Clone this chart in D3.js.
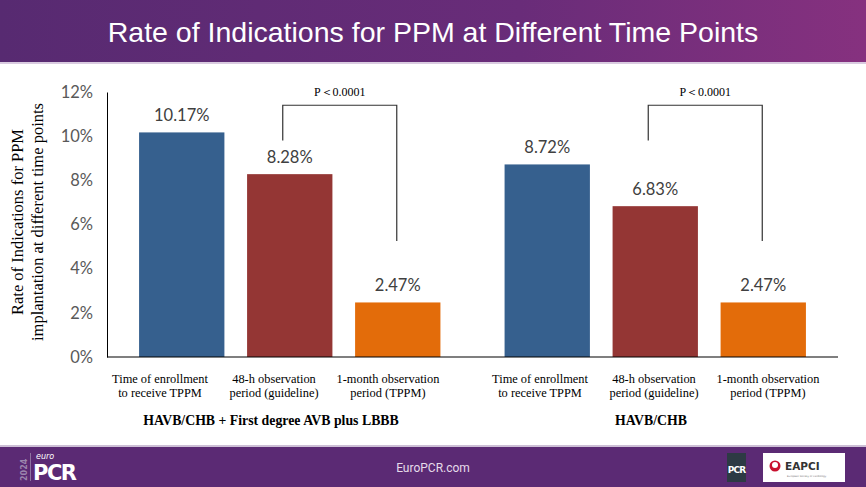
<!DOCTYPE html>
<html><head><meta charset="utf-8">
<script src="https://cdn.jsdelivr.net/npm/d3@7/dist/d3.min.js"></script>
<style>body{margin:0;background:#fff}svg{display:block}</style>
</head><body>
<svg id="c" width="866" height="487"></svg>
<script>
const title = "Rate of Indications for PPM at Different Time Points";
const groups = ["HAVB/CHB + First degree AVB plus LBBB", "HAVB/CHB"];
const categories = ["Time of enrollment|to receive TPPM", "48-h observation|period (guideline)", "1-month observation|period (TPPM)"];
const seriesValues = [[10.17, 8.28, 2.47], [8.72, 6.83, 2.47]];
const barColors = ["#36608e", "#943634", "#e36c0a"];
const yTicks = [0, 2, 4, 6, 8, 10, 12];
const yTitle = ["Rate of Indications for PPM", "implantation at different time points"];
const pLabel = "P\uFF1C0.0001";
const bracketValues = [11.4, 9.8, 5.25]; // top, left leg end, right leg end

const svg = d3.select("#c");
const defs = svg.append("defs");
const g = defs.append("linearGradient").attr("id","hdr").attr("x1","0").attr("x2","1");
g.append("stop").attr("offset","0").attr("stop-color","#572a71");
g.append("stop").attr("offset","0.6").attr("stop-color","#692c79");
g.append("stop").attr("offset","1").attr("stop-color","#86317f");

// header
svg.append("rect").attr("x",0).attr("y",0).attr("width",866).attr("height",62).attr("fill","url(#hdr)");
svg.append("rect").attr("x",0).attr("y",62).attr("width",866).attr("height",2).attr("fill","#d9cbe0");
svg.append("text").attr("x",433).attr("y",42).attr("text-anchor","middle")
  .attr("font-family","Liberation Sans, Arial, sans-serif").attr("font-size",28.5).attr("fill","#fff").text(title);

// footer
svg.append("rect").attr("x",0).attr("y",445).attr("width",866).attr("height",2).attr("fill","#cdbfd6");
svg.append("rect").attr("x",0).attr("y",447).attr("width",866).attr("height",40).attr("fill","#5b2a74");
svg.append("text").attr("x",433).attr("y",472).attr("text-anchor","middle")
  .attr("font-family","Roboto, sans-serif").attr("font-size",12).attr("fill","#e6dcea").text("EuroPCR.com");
// euroPCR logo
svg.append("text").attr("transform","translate(27,481) rotate(-90)").attr("font-family","DejaVu Sans, sans-serif")
  .attr("font-weight","bold").attr("font-size",8).attr("fill","#9b86ad").text("2024");
svg.append("rect").attr("x",30).attr("y",453).attr("width",0.8).attr("height",28).attr("fill","#9b86ad");
svg.append("text").attr("x",36).attr("y",459).attr("font-family","DejaVu Sans, sans-serif").attr("font-style","italic")
  .attr("font-size",8).attr("fill","#fff").text("euro");
svg.append("text").attr("x",33).attr("y",480).attr("font-family","DejaVu Sans, sans-serif").attr("font-weight","bold")
  .attr("font-size",21).attr("letter-spacing",-1.5).attr("fill","#fff").text("PCR");
// PCR square
svg.append("rect").attr("x",727).attr("y",453).attr("width",19).attr("height",29).attr("fill","#2d3a44");
svg.append("text").attr("x",736.5).attr("y",473).attr("text-anchor","middle").attr("font-family","DejaVu Sans, sans-serif")
  .attr("font-weight","bold").attr("font-size",9).attr("letter-spacing",-0.8).attr("fill","#fff").text("PCR");
// EAPCI box
svg.append("rect").attr("x",763).attr("y",453).attr("width",82).attr("height",29).attr("fill","#fff");
svg.append("circle").attr("cx",775).attr("cy",466).attr("r",5.5).attr("fill","#c8102e");
svg.append("circle").attr("cx",775).attr("cy",465).attr("r",3).attr("fill","#fff");
svg.append("text").attr("x",785).attr("y",470).attr("font-family","DejaVu Sans, sans-serif").attr("font-weight","bold")
  .attr("font-size",10.5).attr("fill","#333").text("EAPCI");
svg.append("text").attr("x",787).attr("y",477).attr("font-family","DejaVu Sans, sans-serif")
  .attr("font-size",2.5).attr("fill","#777").text("European Society of Cardiology");

// scales
const y = d3.scaleLinear().domain([0, 12]).range([357, 92]);
const x0 = d3.scaleBand().domain(groups).range([107, 838]).padding(0);
const x1 = d3.scaleBand().domain(categories).range([0, x0.bandwidth()]).paddingInner(0.21).paddingOuter(0.297);
// label positions (category text sits on its own grid in the original)
const lx0 = d3.scaleBand().domain(groups).range([84, 844]).padding(0);
const lx1 = d3.scalePoint().domain(categories).range([0, lx0.bandwidth()]).padding(0.667);

// y axis
const yAxis = d3.axisLeft(y).tickValues(yTicks).tickFormat(d => d + "%").tickSize(0).tickPadding(14);
const ya = svg.append("g").attr("transform","translate(107,0)").call(yAxis);
ya.select(".domain").attr("stroke","#000").attr("stroke-width",1);
ya.selectAll("text").attr("font-family","Lato, sans-serif").attr("font-size",16.5).attr("fill","#595959");

// bars
groups.forEach((grp, gi) => {
  const gg = svg.append("g").attr("transform", `translate(${x0(grp)},0)`);
  gg.selectAll("rect").data(seriesValues[gi]).join("rect")
    .attr("x", (d,i) => x1(categories[i])).attr("y", d => y(d))
    .attr("width", x1.bandwidth()).attr("height", d => y(0) - y(d))
    .attr("fill", (d,i) => barColors[i]);
  gg.selectAll("text.val").data(seriesValues[gi]).join("text").attr("class","val")
    .attr("x", (d,i) => x1(categories[i]) + x1.bandwidth()/2).attr("y", d => y(d) - 11)
    .attr("text-anchor","middle").attr("font-family","Lato, sans-serif").attr("font-size",16.5)
    .attr("fill","#404040").text(d => d.toFixed(2) + "%");
  // category labels
  categories.forEach((c, i) => {
    const cx = lx0(grp) + lx1(c);
    const t = svg.append("text").attr("x", cx).attr("y", 383)
      .attr("text-anchor","middle").attr("font-family","Liberation Serif, Times New Roman, serif")
      .attr("font-size",12.4).attr("fill","#000");
    c.split("|").forEach((line, li) => t.append("tspan").attr("x", cx).attr("dy", li ? 14 : 0).text(line));
  });
  // group label
  svg.append("text").attr("x", lx0(grp) + lx0.bandwidth()/2 - 3).attr("y", 425).attr("text-anchor","middle")
    .attr("font-family","Liberation Serif, Times New Roman, serif").attr("font-weight","bold")
    .attr("font-size",13.8).attr("fill","#000").text(grp);
  // bracket
  const xl = x0(grp) + x1(categories[1]) + x1.bandwidth()/2 - 7;
  const xr = x0(grp) + x1(categories[2]) + x1.bandwidth()/2 - 1;
  svg.append("path").attr("d", `M${xl},${y(bracketValues[1])}V${y(bracketValues[0])}H${xr}V${y(bracketValues[2])}`)
    .attr("fill","none").attr("stroke","#333").attr("stroke-width",1.2);
  svg.append("text").attr("x",(xl+xr)/2).attr("y", y(bracketValues[0]) - 9).attr("text-anchor","middle")
    .attr("font-family","Liberation Serif, Times New Roman, serif").attr("font-size",12).attr("fill","#000").text(pLabel);
});

// x axis line
svg.append("line").attr("x1",107).attr("x2",838).attr("y1",y(0)).attr("y2",y(0)).attr("stroke","#000").attr("stroke-width",1.2);

// y title
const yt = svg.append("text").attr("transform","translate(0,222) rotate(-90)").attr("text-anchor","middle")
  .attr("font-family","Liberation Serif, Times New Roman, serif").attr("font-size",16.5).attr("fill","#000");
yt.append("tspan").attr("x",0).attr("y",23).text(yTitle[0]);
yt.append("tspan").attr("x",0).attr("y",43).text(yTitle[1]);
</script>
</body></html>
